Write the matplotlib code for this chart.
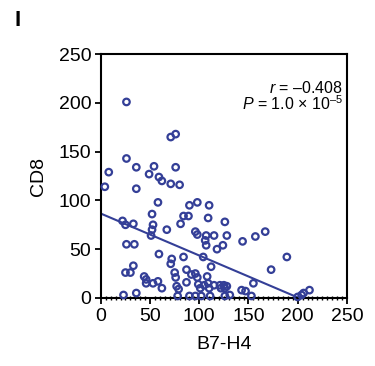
import matplotlib
matplotlib.use('Agg')
import matplotlib.pyplot as plt
from matplotlib import rcParams
from matplotlib.ticker import MultipleLocator
import numpy as np

# 字体设置
rcParams['font.family'] = 'Liberation Sans'
rcParams['mathtext.fontset'] = 'custom'
rcParams['mathtext.rm'] = 'Liberation Sans'
rcParams['mathtext.it'] = 'Liberation Sans:italic'

# 数据 (B7-H4, CD8)
b7h4 = [26, 71, 76, 26, 36, 54, 76, 8, 49, 59, 62, 71, 80, 4, 36,
        58, 90, 98, 110, 52, 84, 89, 109, 22, 25, 33, 53, 52, 81, 67,
        126, 96, 98, 107, 115, 128, 144, 157, 167, 51, 26, 34, 106, 107, 118,
        124, 59, 72, 71, 84, 104, 112, 33, 189, 25, 30, 44, 46, 75, 76,
        87, 92, 96, 98, 108, 173, 46, 53, 58, 62, 77, 79, 87, 99, 101,
        105, 109, 110, 115, 121, 125, 128, 122, 126, 143, 155, 147, 23, 36, 78,
        90, 96, 102, 111, 126, 131, 153, 204, 206, 212, 200]
cd8 = [201, 165, 168, 143, 134, 135, 134, 129, 127, 124, 120, 117, 116, 114, 112,
       98, 95, 98, 95, 86, 84, 84, 82, 79, 75, 76, 75, 70, 76, 70,
       78, 68, 65, 64, 64, 64, 58, 63, 68, 64, 55, 55, 59, 54, 50,
       54, 45, 40, 35, 42, 42, 32, 33, 42, 26, 26, 22, 19, 26, 21,
       29, 24, 25, 21, 22, 29, 15, 15, 17, 10, 12, 9, 16, 14, 10,
       13, 15, 10, 13, 13, 13, 12, 10, 10, 8, 15, 7, 3, 5, 2,
       2, 2, 2, 2, 2, 3, 2, 3, 5, 8, 1]

# 回归线参数
fit_intercept = 86.5
fit_slope = -0.43
fit_range = [0, 200]

stat_r = '$r$ = –0.408'
stat_p = '$P$ = 1.0 × 10$^{–5}$'

color = '#343F97'

fig = plt.figure(figsize=(3.75, 3.66), dpi=100)
ax = fig.add_axes([0.269, 0.186, 0.656, 0.666])

ax.scatter(b7h4, cd8, s=22, facecolors='none', edgecolors=color,
           linewidths=1.6, clip_on=False, zorder=3)

xs = np.array(fit_range)
ax.plot(xs, fit_intercept + fit_slope * xs, color=color, linewidth=1.5, zorder=2)

ax.set_xlim(0, 250)
ax.set_ylim(0, 250)
ax.set_xticks(np.arange(0, 251, 50))
ax.set_yticks(np.arange(0, 251, 50))
ax.xaxis.set_minor_locator(MultipleLocator(5))
ax.tick_params(axis='both', which='major', labelsize=14, length=4, width=1.3, direction='out', pad=3)
ax.tick_params(axis='x', which='minor', length=2.5, width=1.0, direction='inout')

for s in ax.spines.values():
    s.set_linewidth(1.5)
    s.set_color('black')

ax.set_xlabel('B7-H4', fontsize=14, labelpad=8)
ax.set_ylabel('CD8', fontsize=14, labelpad=8)

ax.text(0.985, 0.86, stat_r, transform=ax.transAxes, ha='right', va='center', fontsize=11.5)
ax.text(0.985, 0.795, stat_p, transform=ax.transAxes, ha='right', va='center', fontsize=11.5)

fig.text(0.04, 0.945, 'I', fontsize=16, fontweight='bold', ha='left', va='center')

fig.savefig('out.png', dpi=100)
